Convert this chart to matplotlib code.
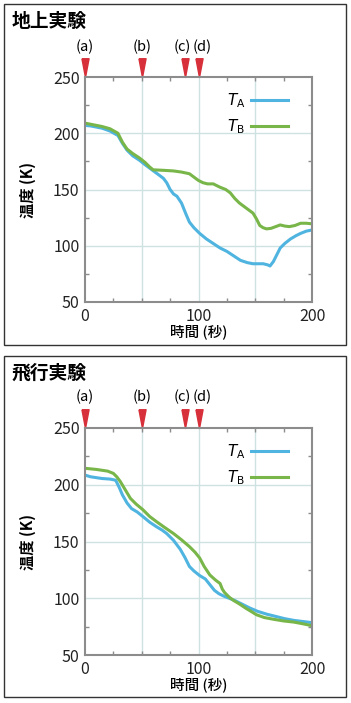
import matplotlib
matplotlib.use("Agg")
import matplotlib.pyplot as plt
from matplotlib.patches import Rectangle
from matplotlib.ticker import MultipleLocator

plt.rcParams["font.family"] = ["Noto Sans CJK JP", "DejaVu Sans"]
plt.rcParams["mathtext.fontset"] = "dejavusans"

# --- data ---
event_t = [0, 50, 88, 100]
event_labels = ["(a)", "(b)", "(c)", "(d)"]
event_nudge = [0, 0, -1.5, 2.5]  # label shift in points so (c)(d) don't collide

# ground test (地上実験)
g_t_a = [0, 5, 15, 22, 29, 33, 37, 42, 48, 53, 57, 61, 65, 69, 72, 75, 78, 81, 85,
         89, 92, 96, 101, 107, 113, 119, 125, 131, 137, 143, 148, 153, 157, 161,
         163, 166, 169, 172, 176, 181, 186, 190, 195, 200]
g_ta = [207, 206.5, 204.5, 202, 198, 191, 185, 180, 176, 172, 169, 166, 163, 160,
        156, 150, 146, 144, 138, 128, 121, 116, 111, 106, 102, 98, 95, 91, 87, 85,
        84, 84, 84, 83, 82, 86, 92, 98, 102, 106, 109, 111, 113, 114]
g_t_b = [0, 5, 15, 22, 29, 33, 37, 42, 48, 53, 57, 60, 70, 78, 85, 92, 96, 100, 104,
         108, 113, 119, 124, 128, 132, 136, 140, 144, 148, 151, 154, 157, 160, 164,
         168, 172, 176, 180, 185, 190, 195, 200]
g_tb = [209, 208, 206, 204, 200, 192, 186, 182, 178, 174, 170, 167.5, 167, 166.5,
        165.5, 164, 161, 158, 156, 155, 155, 152, 150, 147, 142, 138, 135, 132, 129,
        124, 118, 116, 115, 115.5, 117, 118.5, 117.5, 117, 118, 120, 120, 119.5]

# flight test (飛行実験)
f_t_a = [0, 5, 15, 22, 27, 30, 33, 37, 41, 46, 51, 57, 63, 68, 72, 78, 84, 88, 92,
         96, 101, 106, 110, 114, 118, 122, 127, 132, 138, 145, 152, 160, 168, 176,
         184, 192, 200]
f_ta = [208.5, 207, 205.5, 205, 204, 198, 191, 184, 179, 176, 172, 167, 163, 160,
        157, 151, 143, 136, 128, 124, 120, 117, 112, 107, 104, 102, 100, 98, 95,
        91.5, 88.5, 86, 84, 82, 80.5, 79.5, 78.5]
f_t_b = [0, 10, 20, 25, 28, 31, 34, 37, 40, 45, 51, 57, 63, 70, 78, 85, 92, 97, 101,
         105, 110, 115, 119, 121, 123, 127, 131, 136, 142, 147, 151, 158, 166, 175,
         184, 192, 200]
f_tb = [214.5, 213.5, 212, 210, 207, 203, 198, 193, 188, 183, 178, 172, 167.5,
        162.5, 157, 151.5, 145.5, 140.5, 135.5, 128, 120.5, 116, 113, 108, 105, 101,
        98, 95, 91, 88, 85.5, 83, 81.5, 80, 79, 77.5, 75.8]

BLUE = "#4fb4df"
GREEN = "#79b649"
RED = "#d8303a"
GRID = "#cfe2e2"
SPINE = "#8c8c8c"

# tall thin down-pointing triangle, tip at the origin
TRI = [(-0.19, 1.0), (0.19, 1.0), (0.0, 0.0), (-0.19, 1.0)]

W, H = 351, 703


def draw_panel(fig, ax_rect, box_rect, title, t_a, ta, t_b, tb):
    # outer frame around the whole panel
    x0, y0, x1, y1 = box_rect
    fig.patches.append(Rectangle((x0 / W, 1 - y1 / H), (x1 - x0) / W, (y1 - y0) / H,
                                 transform=fig.transFigure, fill=False,
                                 edgecolor="#333333", linewidth=1.0))
    fig.text((x0 + 8) / W, 1 - (y0 + 17) / H, title, fontsize=13.5, fontweight="bold",
             va="center", ha="left")

    l, t, r, b = ax_rect
    ax = fig.add_axes([l / W, 1 - b / H, (r - l) / W, (b - t) / H])
    ax.plot(t_a, ta, color=BLUE, lw=2.2, label=r"$T_\mathsf{A}$")
    ax.plot(t_b, tb, color=GREEN, lw=2.2, label=r"$T_\mathsf{B}$")

    ax.set_xlim(0, 200)
    ax.set_ylim(50, 250)
    ax.xaxis.set_major_locator(MultipleLocator(100))
    ax.yaxis.set_major_locator(MultipleLocator(50))
    ax.xaxis.set_minor_locator(MultipleLocator(25))
    ax.yaxis.set_minor_locator(MultipleLocator(25))
    for v in (50, 100, 150):
        ax.axvline(v, color=GRID, lw=1.0, zorder=0)
    for v in (100, 150, 200):
        ax.axhline(v, color=GRID, lw=1.0, zorder=0)
    ax.tick_params(which="both", direction="in", colors=SPINE, labelcolor="#222222",
                   labelsize=11.5, top=True, right=True)
    ax.tick_params(which="major", length=0, pad=4)
    ax.tick_params(which="minor", length=3, width=1)
    for s in ax.spines.values():
        s.set_color(SPINE)
        s.set_linewidth(1.5)

    ax.set_xlabel("時間 (秒)", fontsize=10.5, fontweight="medium", labelpad=0)
    ax.set_ylabel("温度 (K)", fontsize=11, fontweight="bold", labelpad=12)

    # event markers above the plot
    tr = ax.get_xaxis_transform()
    ax.plot(event_t, [1] * len(event_t), transform=tr, ls="none", marker=TRI,
            ms=27, color=RED, clip_on=False)
    for et, lab, dx in zip(event_t, event_labels, event_nudge):
        ax.annotate(lab, (et, 1.135), xycoords=tr, xytext=(dx, 0),
                    textcoords="offset points", ha="center", va="center",
                    fontsize=10.5)

    ax.legend(loc="upper right", bbox_to_anchor=(0.894, 0.935), markerfirst=False,
              frameon=False, fontsize=11, handlelength=2.4, handletextpad=0.4,
              borderaxespad=0, borderpad=0, labelspacing=0.45)
    return ax


fig = plt.figure(figsize=(W / 100, H / 100), dpi=100)
draw_panel(fig, (85, 77, 312, 302), (4, 4, 346, 345), "地上実験",
           g_t_a, g_ta, g_t_b, g_tb)
draw_panel(fig, (85, 428, 312, 655), (4, 356, 346, 697), "飛行実験",
           f_t_a, f_ta, f_t_b, f_tb)
fig.savefig("out.png", dpi=100)
